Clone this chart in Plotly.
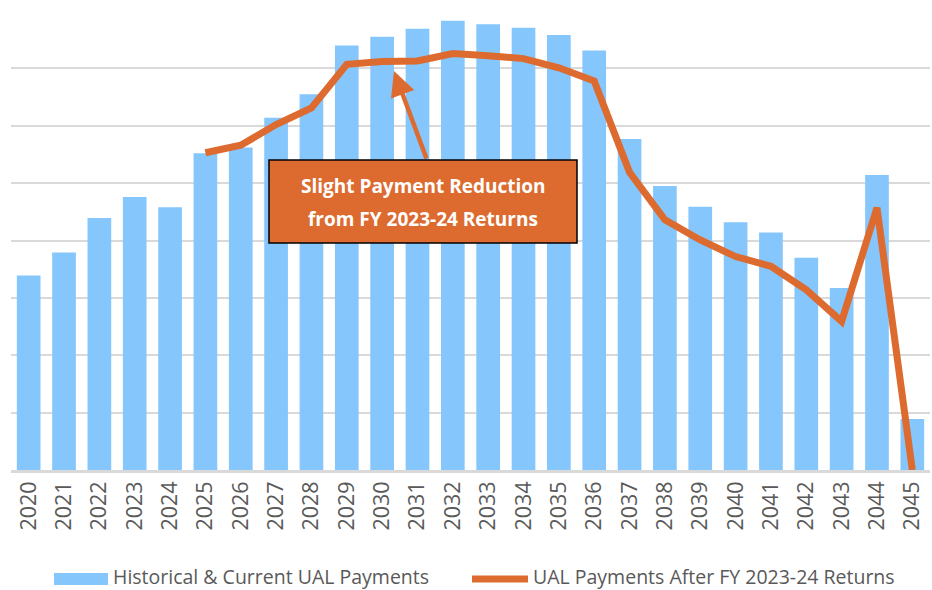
import plotly.graph_objects as go

years = [str(y) for y in range(2020, 2046)]
historical = [3.39, 3.79, 4.39, 4.76, 4.58, 5.52, 5.62, 6.14, 6.55, 7.40, 7.55, 7.69, 7.83,
              7.77, 7.71, 7.58, 7.31, 5.77, 4.95, 4.59, 4.32, 4.14, 3.70, 3.17, 5.14, 0.89]
after_returns = [None, None, None, None, None, 5.53, 5.66, 6.02, 6.31, 7.07, 7.12, 7.13, 7.26,
                 7.22, 7.17, 7.01, 6.78, 5.19, 4.36, 4.01, 3.72, 3.55, 3.14, 2.59, 4.57, 0.0]
bar_name = "Historical & Current UAL Payments"
line_name = "UAL Payments After FY 2023-24 Returns"
note_lines = ["Slight Payment Reduction", "from FY 2023-24 Returns"]

BLUE = "#85C6FC"
ORANGE = "#DD6B2F"
GRID = "#D9D9D9"
TXT = "#595959"
FONT = "Open Sans"

fig = go.Figure()
fig.add_trace(go.Bar(x=years, y=historical, name=bar_name, marker=dict(color=BLUE, line=dict(width=0))))
fig.add_trace(go.Scatter(x=years, y=after_returns, name=line_name, mode="lines",
                         line=dict(color=ORANGE, width=7), connectgaps=False))

L, R, T, B = 11, 2, 11, 120
W, H = 932, 590
pw = W - L - R
ph = H - T - B

def px_x(p):
    return (p - L) / pw

def px_y(p):
    return (H - B - p) / ph

fig.update_layout(
    width=W, height=H,
    margin=dict(l=L, r=R, t=T, b=B, autoexpand=False),
    paper_bgcolor="white", plot_bgcolor="white",
    showlegend=False,
    bargap=0.33,
    font=dict(family=FONT, color=TXT),
    xaxis=dict(type="category", tickangle=-90, tickfont=dict(size=21.5, color=TXT, family=FONT),
               showline=True, linecolor=GRID, linewidth=2.5, ticks="", showgrid=False,
               automargin=False),
    yaxis=dict(range=[0, 8], dtick=1, showticklabels=False, showgrid=True, gridcolor=GRID,
               gridwidth=2, zeroline=False, showline=False, ticks="", automargin=False),
)

# arrow
fig.add_annotation(xref="paper", yref="paper", x=px_x(394), y=px_y(71), text="",
                   showarrow=True, axref="pixel", ayref="pixel", ax=33, ay=89,
                   arrowhead=2, arrowsize=1.1, arrowwidth=4.5, arrowcolor=ORANGE)
# callout box
fig.add_shape(type="rect", xref="paper", yref="paper", layer="above",
              x0=px_x(269), x1=px_x(577), y0=px_y(243), y1=px_y(160),
              fillcolor=ORANGE, line=dict(color="black", width=1.5))
for txt, yc in zip(note_lines, [186, 218.5]):
    fig.add_annotation(xref="paper", yref="paper", x=px_x(423), y=px_y(yc),
                       xanchor="center", yanchor="middle", text="<b>" + txt + "</b>",
                       showarrow=False, font=dict(size=19, color="white", family=FONT))

# manual legend
fig.add_shape(type="rect", xref="paper", yref="paper",
              x0=px_x(54), x1=px_x(108), y0=px_y(585), y1=px_y(573),
              fillcolor=BLUE, line=dict(width=0))
fig.add_annotation(xref="paper", yref="paper", x=px_x(112), y=px_y(576.5), text=bar_name,
                   xanchor="left", yanchor="middle", showarrow=False, borderpad=0,
                   font=dict(size=19.5, color=TXT, family=FONT))
fig.add_shape(type="line", xref="paper", yref="paper",
              x0=px_x(472), x1=px_x(528), y0=px_y(579), y1=px_y(579),
              line=dict(color=ORANGE, width=7))
fig.add_annotation(xref="paper", yref="paper", x=px_x(532), y=px_y(576.5), text=line_name,
                   xanchor="left", yanchor="middle", showarrow=False, borderpad=0,
                   font=dict(size=19.5, color=TXT, family=FONT))

fig.write_html("out.html", config={"displayModeBar": False},
               post_script="document.body.style.margin='0px';document.body.style.overflow='hidden';")
